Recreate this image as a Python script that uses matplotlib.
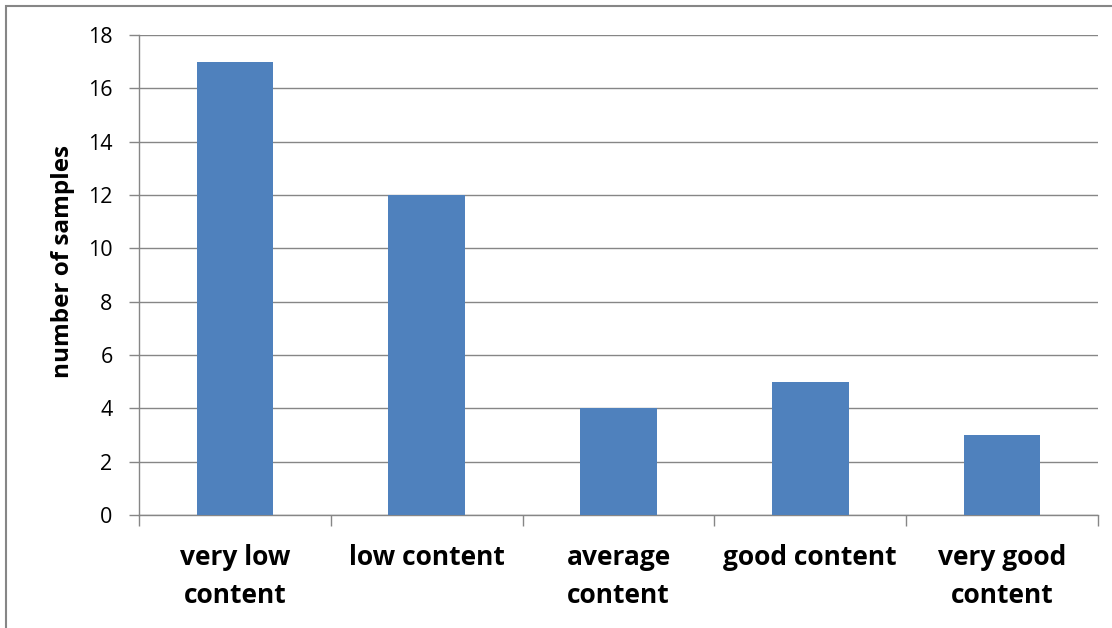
import matplotlib.pyplot as plt
from matplotlib.patches import Rectangle

categories = ["very low\ncontent", "low content", "average\ncontent", "good content", "very good\ncontent"]
samples = [17, 12, 4, 5, 3]
yticks = [0, 2, 4, 6, 8, 10, 12, 14, 16, 18]

plt.rcParams['font.family'] = ['Open Sans', 'DejaVu Sans']

W, H = 1112, 628
fig = plt.figure(figsize=(W / 100, H / 100), dpi=100)
ax = fig.add_axes([139 / W, 1 - 515 / H, (1098 - 139) / W, (515 - 35) / H])

grid_c = '#868686'
x = list(range(len(categories)))
ax.bar(x, samples, width=0.4, color='#4F81BD', zorder=3)

ax.set_xlim(-0.5, len(categories) - 0.5)
ax.set_ylim(0, 18)
ax.set_yticks(yticks)
ax.tick_params(axis='y', labelsize=15.5, length=7, width=1, color=grid_c, pad=12)
ax.yaxis.grid(True, color=grid_c, linewidth=1, zorder=0)

# category labels between tick marks
ax.set_xticks([i - 0.5 for i in range(len(categories) + 1)])
ax.set_xticklabels([])
ax.tick_params(axis='x', length=8, width=1, color=grid_c)
for i, lab in enumerate(categories):
    ax.text(i, -1.1, lab, ha='center', va='top', fontsize=19, fontweight='bold',
            linespacing=1.5, transform=ax.transData)

for s in ['top', 'right']:
    ax.spines[s].set_visible(False)
for s in ['left', 'bottom']:
    ax.spines[s].set_color(grid_c)
    ax.spines[s].set_linewidth(1)

ax.set_ylabel('number of samples', fontsize=17.5, fontweight='bold', labelpad=9)
ax.yaxis.set_label_coords(-64 / 959, (515 - 262) / 480)

fig.patches.append(Rectangle((6 / W, -0.1), 1.2, 1 - 6 / H + 0.1, transform=fig.transFigure,
                             fill=False, edgecolor=grid_c, linewidth=1.5))

fig.savefig('out.png', dpi=100)
